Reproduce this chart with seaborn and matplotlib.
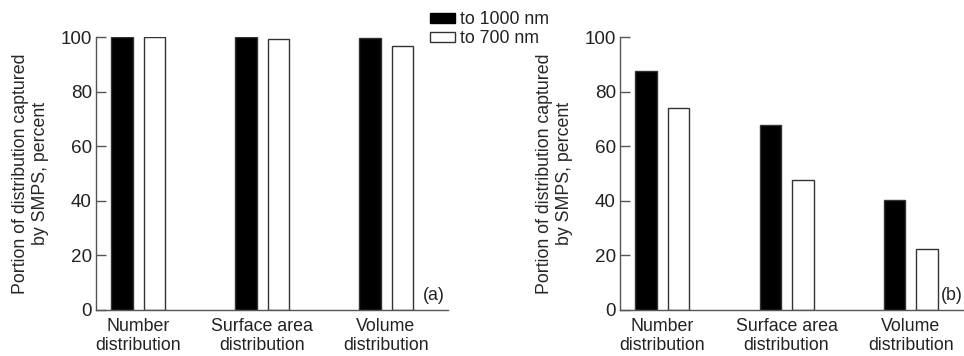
import matplotlib
matplotlib.use("Agg")
import matplotlib.pyplot as plt
import seaborn as sns
import pandas as pd
from matplotlib.patches import Patch

categories = ["Number\ndistribution", "Surface area\ndistribution", "Volume\ndistribution"]
series = ["to 1000 nm", "to 700 nm"]
a_1000 = [100.0, 100.0, 99.6]
a_700 = [100.0, 99.4, 96.7]
b_1000 = [87.5, 67.6, 40.2]
b_700 = [74.0, 47.6, 22.5]
yticks = [0, 20, 40, 60, 80, 100]
ylabel = "Portion of distribution captured\nby SMPS, percent"
panel_labels = ["(a)", "(b)"]

def long_df(v1000, v700):
    rows = []
    for c, v in zip(categories, v1000):
        rows.append({"cat": c, "series": series[0], "val": v})
    for c, v in zip(categories, v700):
        rows.append({"cat": c, "series": series[1], "val": v})
    return pd.DataFrame(rows)

sns.set_style("white")
plt.rcParams["font.family"] = ["Liberation Sans", "DejaVu Sans"]
plt.rcParams["text.color"] = "#222222"
plt.rcParams["xtick.labelcolor"] = "#222222"
plt.rcParams["ytick.labelcolor"] = "#222222"
FS = 12.8
GRAY = "#555555"

fig = plt.figure(figsize=(9.64, 3.56), dpi=100)
W, H = 964, 356
ax_a = fig.add_axes([96 / W, 46 / H, 352 / W, 273 / H])
ax_b = fig.add_axes([620 / W, 46 / H, 353 / W, 273 / H])

palette = {series[0]: "black", series[1]: "white"}
for ax, v1, v2, lab, lx in [(ax_a, a_1000, a_700, panel_labels[0], 2.30),
                            (ax_b, b_1000, b_700, panel_labels[1], 2.24)]:
    df = long_df(v1, v2)
    sns.barplot(data=df, x="cat", y="val", hue="series", order=categories,
                hue_order=series, palette=palette, width=0.524, gap=0.34,
                edgecolor="#333333", linewidth=1.0, ax=ax, legend=False,
                errorbar=None, saturation=1)
    ax.set_xlim(-0.34, 2.5)
    ax.set_ylim(0, 100)
    ax.set_yticks(yticks)
    ax.set_yticklabels([str(t) for t in yticks], fontsize=13.6)
    ax.tick_params(axis="y", direction="in", length=7, width=1, color=GRAY, pad=3, left=True)
    ax.tick_params(axis="x", length=0, pad=6, labelsize=FS)
    for t in ax.get_xticklabels():
        t.set_linespacing(1.1)
    ax.set_xlabel("")
    ax.set_ylabel(ylabel, fontsize=FS, labelpad=8, linespacing=1.25)
    for s in ["top", "right"]:
        ax.spines[s].set_visible(False)
    for s in ["left", "bottom"]:
        ax.spines[s].set_color(GRAY)
        ax.spines[s].set_linewidth(1.0)
    ax.text(lx, 5.2, lab, fontsize=FS, ha="left", va="center")
    ax.set_facecolor("white")

handles = [Patch(facecolor="black", edgecolor="black"),
           Patch(facecolor="white", edgecolor="#333333")]
fig.legend(handles, series, loc="upper left", bbox_to_anchor=(430 / W, 1 - 11 / H),
           frameon=False, fontsize=FS, handlelength=1.4, handleheight=0.5,
           handletextpad=0.3, labelspacing=0.12, borderpad=0, borderaxespad=0)

fig.savefig("out.png", dpi=100, facecolor="white")
